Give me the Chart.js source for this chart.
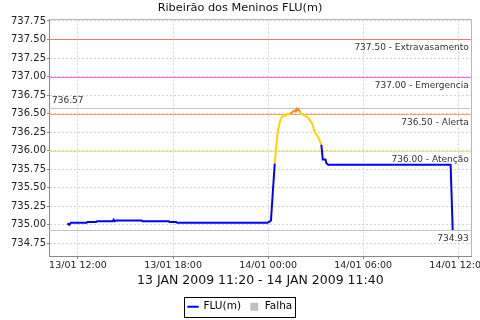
<!DOCTYPE html>
<html>
<head>
<meta charset="utf-8">
<script src="https://cdn.jsdelivr.net/npm/chart.js@4.4.0/dist/chart.umd.min.js"></script>
<style>
  html, body { margin: 0; padding: 0; background: #fff; }
  #wrap { width: 480px; height: 320px; }
</style>
</head>
<body>
<div id="wrap"><canvas id="chart" width="480" height="320"></canvas></div>
<script>
// time in hours counted from 13/01/2009 00:00, level in metres
const times = [11.33, 11.45, 11.55, 12.55, 12.60, 13.15, 13.20, 14.20, 14.25, 14.32, 14.43, 16.02, 16.07,
  17.73, 17.78, 18.20, 18.25, 23.95, 24.07, 24.18, 24.30, 24.42, 24.59, 24.72, 24.80, 24.90, 25.00,
  25.10, 25.17, 25.30, 25.39, 25.54, 25.63, 25.71, 25.76, 25.81, 25.87, 25.92, 26.02, 26.13, 26.25,
  26.34, 26.45, 26.56, 26.77, 26.94, 27.05, 27.19, 27.36, 27.45, 27.62, 27.68, 27.79, 35.52, 35.65];
const levels = [735.02, 735.00, 735.03, 735.03, 735.04, 735.04, 735.05, 735.05, 735.07, 735.05, 735.06, 735.06, 735.05,
  735.05, 735.04, 735.04, 735.03, 735.03, 735.04, 735.06, 735.45, 735.83, 736.23, 736.37, 736.43, 736.46, 736.48,
  736.47, 736.50, 736.49, 736.50, 736.52, 736.54, 736.53, 736.56, 736.57, 736.55, 736.56, 736.52, 736.49, 736.48,
  736.47, 736.46, 736.43, 736.37, 736.25, 736.22, 736.17, 736.08, 735.88, 735.88, 735.83, 735.81, 735.81, 734.93];

const xTicks = [12, 18, 24, 30, 36];
const yTicks = [734.75, 735.00, 735.25, 735.50, 735.75, 736.00, 736.25, 736.50, 736.75, 737.00, 737.25, 737.50, 737.75];

const thresholdValues = [737.50, 737.00, 736.57, 736.50, 736.00, 734.93];
const thresholdLabels = ['737.50 - Extravasamento', '737.00 - Emergencia', '736.57', '736.50 - Alerta', '736.00 - Atenção', '734.93'];

const seriesLabels = ['FLU(m)', 'Falha'];

// styles kept apart from the values
const thresholdColors = ['#e67a7a', '#ff5cff', '#c4c4c4', '#f2a45c', '#e6e67a', '#c4c4c4'];
const thresholdLeft = [false, false, true, false, false, false];
const ATENCAO = thresholdValues[4];
const ALERTA = thresholdValues[3];

const pad2 = (n) => String(n).padStart(2, '0');
const formatHour = (h) => {
    const day = 13 + Math.floor(h / 24);
    const hour = h % 24;
    return pad2(day) + '/01 ' + pad2(hour) + ':00';
};

// blue below Atenção, yellow up to Alerta, orange above
const segmentColor = (ctx) => {
    const v = ctx.p1.parsed.y;
    if (v > ALERTA) return '#ff8c1a';
    if (v >= ATENCAO) return '#ffd400';
    return '#0000ff';
};

// level lines + their labels + plot frame
const levelLines = {
    id: 'levelLines',
    beforeDatasetsDraw(chart) {
        const { ctx, chartArea: a, scales: { y } } = chart;
        ctx.save();
        ctx.strokeStyle = '#b8b8b8';
        ctx.lineWidth = 1;
        ctx.beginPath();
        ctx.moveTo(Math.round(a.left), Math.round(a.top) + 0.5);
        ctx.lineTo(Math.round(a.right) - 0.5, Math.round(a.top) + 0.5);
        ctx.lineTo(Math.round(a.right) - 0.5, Math.round(a.bottom));
        ctx.stroke();

        ctx.font = '9px "DejaVu Sans"';
        ctx.textBaseline = 'middle';
        thresholdValues.forEach((v, i) => {
            const py = Math.round(y.getPixelForValue(v)) + 0.5;
            ctx.strokeStyle = thresholdColors[i];
            ctx.beginPath();
            ctx.moveTo(a.left, py);
            ctx.lineTo(a.right - 1, py);
            ctx.stroke();
            ctx.fillStyle = '#333';
            if (thresholdLeft[i]) {
                ctx.textAlign = 'left';
                ctx.fillText(thresholdLabels[i], a.left + 3, py - 8);
            } else {
                ctx.textAlign = 'right';
                ctx.fillText(thresholdLabels[i], a.right - 3, py + 8);
            }
        });
        ctx.restore();
    }
};

// black frame round the legend
const legendBox = {
    id: 'legendBox',
    afterDraw(chart) {
        const boxes = chart.legend.legendHitBoxes;
        if (!boxes || !boxes.length) return;
        const ctx = chart.ctx;
        const first = boxes[0];
        const last = boxes[boxes.length - 1];
        const x0 = Math.round(first.left) - 3.5;
        const x1 = Math.round(last.left + last.width) + 3.5;
        const cy = first.top + first.height / 2;
        ctx.save();
        ctx.strokeStyle = '#000';
        ctx.lineWidth = 1;
        ctx.strokeRect(x0, Math.round(cy - 10) + 0.5, x1 - x0, 20);
        ctx.restore();
    }
};

Chart.defaults.font.family = '"DejaVu Sans", sans-serif';

new Chart(document.getElementById('chart').getContext('2d'), {
    type: 'line',
    data: {
        datasets: [{
            label: seriesLabels[0],
            data: times.map((t, i) => ({ x: t, y: levels[i] })),
            borderColor: '#0000ff',
            backgroundColor: '#0000ff',
            borderWidth: 2,
            pointRadius: 0,
            tension: 0,
            segment: { borderColor: segmentColor }
        }, {
            label: seriesLabels[1],
            data: [],
            borderColor: '#c0c0c0',
            backgroundColor: '#c0c0c0',
            pointRadius: 0
        }]
    },
    options: {
        responsive: false,
        animation: false,
        layout: { padding: { top: 0, left: 0, right: 0, bottom: -2 } },
        plugins: {
            title: {
                display: true,
                text: 'Ribeirão dos Meninos FLU(m)',
                color: '#111',
                font: { size: 11.3, weight: 'normal' },
                padding: { top: 1.2, bottom: 4.7 }
            },
            legend: {
                position: 'bottom',
                labels: {
                    color: '#000',
                    font: { size: 10.5 },
                    usePointStyle: true,
                    boxWidth: 10.5,
                    boxHeight: 8,
                    padding: 8,
                    generateLabels: (chart) => chart.data.datasets.map((ds, i) => ({
                        text: ds.label,
                        fillStyle: ds.backgroundColor,
                        strokeStyle: ds.borderColor,
                        lineWidth: i === 0 ? 2 : 0,
                        pointStyle: i === 0 ? 'line' : 'rect',
                        hidden: false,
                        datasetIndex: i
                    }))
                }
            },
            tooltip: { enabled: false }
        },
        scales: {
            x: {
                type: 'linear',
                min: 10.17,
                max: 36.85,
                afterBuildTicks: (s) => { s.ticks = xTicks.map((v) => ({ value: v })); },
                afterFit: (s) => { s.height = 37.5; s.paddingLeft = 0; s.paddingRight = 8.3; },
                ticks: {
                    color: '#222',
                    font: { size: 9.5 },
                    padding: 1.3,
                    maxRotation: 0,
                    autoSkip: false,
                    callback: (v) => formatHour(v)
                },
                grid: { color: '#d4d4d4', tickColor: '#888', tickLength: 3 },
                border: { color: '#888', dash: [2, 2] },
                title: {
                    display: true,
                    text: '13 JAN 2009 11:20 - 14 JAN 2009 11:40',
                    color: '#111',
                    font: { size: 12.5 },
                    padding: { top: 0, bottom: 5 }
                }
            },
            y: {
                min: 734.58,
                max: 737.77,
                afterBuildTicks: (s) => { s.ticks = yTicks.map((v) => ({ value: v })); },
                afterFit: (s) => { s.width = 49; },
                ticks: {
                    color: '#222',
                    font: { size: 10 },
                    padding: 1,
                    callback: (v) => v.toFixed(2)
                },
                grid: { color: '#d4d4d4', tickColor: '#888', tickLength: 2 },
                border: { color: '#888', dash: [2, 2] }
            }
        }
    },
    plugins: [levelLines, legendBox]
});
</script>
</body>
</html>
